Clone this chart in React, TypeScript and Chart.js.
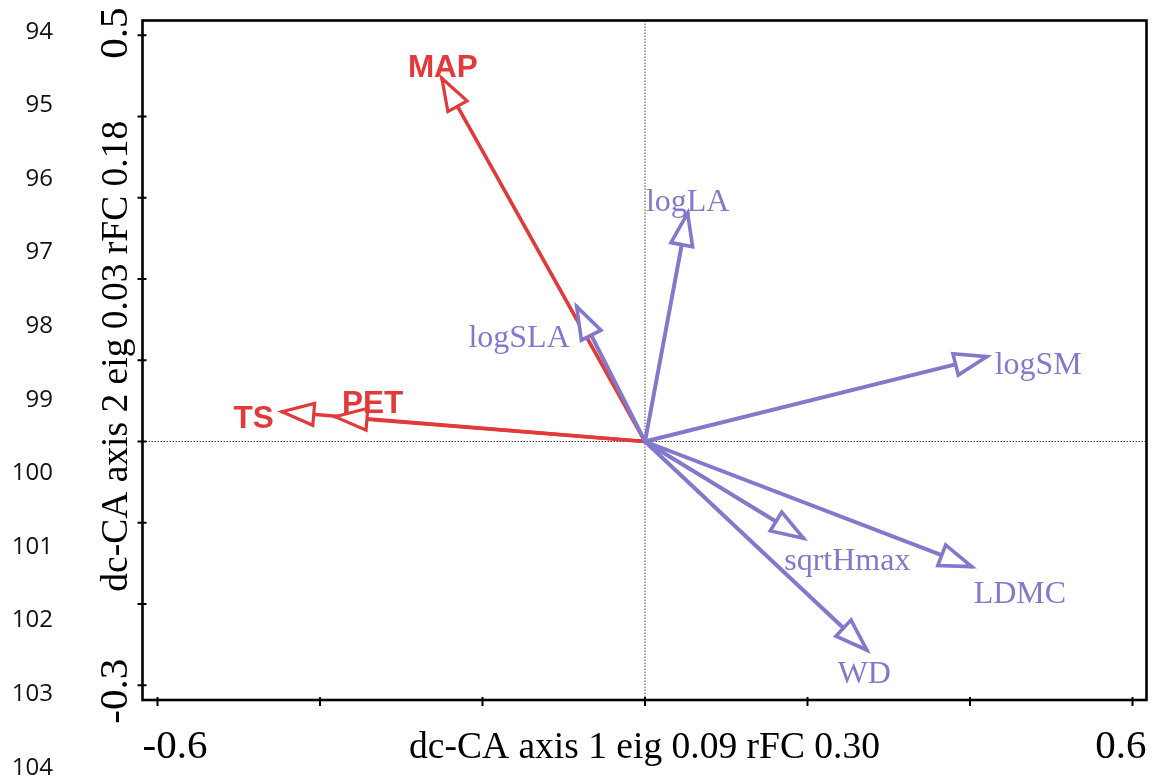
import React, { useEffect, useRef } from "react";
import { Chart, registerables } from "chart.js";

Chart.register(...registerables);

// ---- Data ----
const envNames = ["MAP", "TS", "PET"];
const envX = [-0.25, -0.447, -0.3815];
const envY = [0.447, 0.0367, 0.0305];

const traitNames = ["logLA", "logSLA", "logSM", "sqrtHmax", "LDMC", "WD"];
const traitX = [0.0525, -0.084, 0.4205, 0.1949, 0.402, 0.273];
const traitY = [0.281, 0.166, 0.1044, -0.119, -0.154, -0.2566];

const xTickValues = [-0.6, -0.4, -0.2, 0, 0.2, 0.4, 0.6];
const yTickValues = [-0.3, -0.2, -0.1, 0, 0.1, 0.2, 0.3, 0.4, 0.5];
const xTickLabelValues = [-0.6, 0.6];
const xTickLabels = ["-0.6", "0.6"];
const yTickLabelValues = [-0.3, 0.5];
const yTickLabels = ["-0.3", "0.5"];
const xTitle = "dc-CA axis 1 eig 0.09 rFC 0.30";
const yTitle = "dc-CA axis 2 eig 0.03 rFC 0.18";
const lineNumbers = ["94", "95", "96", "97", "98", "99", "100", "101", "102", "103", "104"];

// ---- Styles ----
const RED = "#E23A3A";
const PURPLE = "#8279CC";
const envLabelPlacement = [
  { align: "center", dx: 1, dy: -1 },
  { align: "right", dx: -8, dy: 16 },
  { align: "left", dx: 7, dy: -4 },
];
const traitLabelPlacement = [
  { align: "center", dx: 0, dy: -2 },
  { align: "right", dx: -7, dy: 40 },
  { align: "left", dx: 8, dy: 17 },
  { align: "center", dx: 44, dy: 32 },
  { align: "left", dx: 2, dy: 36 },
  { align: "center", dx: -2.5, dy: 33 },
];

function drawHead(ctx: CanvasRenderingContext2D, x0: number, y0: number, x1: number, y1: number, color: string, lw: number) {
  const ang = Math.atan2(y1 - y0, x1 - x0);
  const len = 32;
  const hw = 11;
  const bx = x1 - len * Math.cos(ang);
  const by = y1 - len * Math.sin(ang);
  const px = -Math.sin(ang) * hw;
  const py = Math.cos(ang) * hw;
  ctx.save();
  ctx.beginPath();
  ctx.moveTo(x1, y1);
  ctx.lineTo(bx + px, by + py);
  ctx.lineTo(bx - px, by - py);
  ctx.closePath();
  ctx.fillStyle = "#ffffff";
  ctx.fill();
  ctx.lineWidth = lw;
  ctx.strokeStyle = color;
  ctx.lineJoin = "miter";
  ctx.stroke();
  ctx.restore();
}

const biplotPlugin = {
  id: "biplot",
  beforeDatasetsDraw(chart: any) {
    const { ctx, chartArea: a, scales } = chart;
    const x0 = scales.x.getPixelForValue(0);
    const y0 = scales.y.getPixelForValue(0);
    ctx.save();
    ctx.strokeStyle = "#444";
    ctx.lineWidth = 1;
    ctx.setLineDash([1.5, 1.5]);
    ctx.beginPath();
    ctx.moveTo(x0, a.top);
    ctx.lineTo(x0, a.bottom);
    ctx.moveTo(a.left, y0);
    ctx.lineTo(a.right, y0);
    ctx.stroke();
    ctx.restore();
  },
  afterDatasetsDraw(chart: any) {
    const { ctx, chartArea: a, scales } = chart;
    const sx = scales.x;
    const sy = scales.y;
    const ox = sx.getPixelForValue(0);
    const oy = sy.getPixelForValue(0);

    // arrow heads
    envX.forEach((v, i) => drawHead(ctx, ox, oy, sx.getPixelForValue(v), sy.getPixelForValue(envY[i]), RED, 3.2));
    traitX.forEach((v, i) => drawHead(ctx, ox, oy, sx.getPixelForValue(v), sy.getPixelForValue(traitY[i]), PURPLE, 3.6));

    // labels
    ctx.save();
    ctx.textBaseline = "alphabetic";
    ctx.font = "bold 31.5px 'Liberation Sans', Arial, sans-serif";
    ctx.fillStyle = RED;
    envNames.forEach((n, i) => {
      const p = envLabelPlacement[i];
      ctx.textAlign = p.align;
      ctx.fillText(n, sx.getPixelForValue(envX[i]) + p.dx, sy.getPixelForValue(envY[i]) + p.dy);
    });
    ctx.font = "32px 'Liberation Serif', 'Times New Roman', serif";
    ctx.fillStyle = PURPLE;
    traitNames.forEach((n, i) => {
      const p = traitLabelPlacement[i];
      ctx.textAlign = p.align;
      ctx.fillText(n, sx.getPixelForValue(traitX[i]) + p.dx, sy.getPixelForValue(traitY[i]) + p.dy);
    });
    ctx.restore();

    // frame
    ctx.save();
    ctx.strokeStyle = "#000";
    ctx.lineWidth = 2.6;
    ctx.strokeRect(a.left, a.top, a.right - a.left, a.bottom - a.top);
    ctx.lineWidth = 2;
    ctx.beginPath();
    xTickValues.forEach((v) => {
      const px = sx.getPixelForValue(v);
      ctx.moveTo(px, a.bottom - 3);
      ctx.lineTo(px, a.bottom + 6);
    });
    yTickValues.forEach((v) => {
      const py = sy.getPixelForValue(v);
      ctx.moveTo(a.left - 5, py);
      ctx.lineTo(a.left + 4, py);
    });
    ctx.stroke();

    // tick labels and titles
    ctx.fillStyle = "#000";
    ctx.textBaseline = "alphabetic";
    ctx.font = "41px 'Liberation Serif', 'Times New Roman', serif";
    xTickLabelValues.forEach((v, i) => {
      ctx.textAlign = i === 0 ? "left" : "right";
      ctx.fillText(xTickLabels[i], i === 0 ? a.left : a.right, a.bottom + 58);
    });
    yTickLabelValues.forEach((v, i) => {
      const py = sy.getPixelForValue(v);
      ctx.save();
      ctx.translate(a.left - 16, py + (v > 0 ? -2 : 6));
      ctx.rotate(-Math.PI / 2);
      ctx.textAlign = "center";
      ctx.fillText(yTickLabels[i], 0, 0);
      ctx.restore();
    });
    ctx.font = "37.5px 'Liberation Serif', 'Times New Roman', serif";
    ctx.textAlign = "center";
    ctx.fillText(xTitle, (a.left + a.right) / 2, a.bottom + 58);
    ctx.save();
    ctx.translate(a.left - 16, (a.top + a.bottom) / 2 - 4);
    ctx.rotate(-Math.PI / 2);
    ctx.fillText(yTitle, 0, 0);
    ctx.restore();

    // line numbers (document margin)
    ctx.font = "24px 'Open Sans', sans-serif";
    ctx.textAlign = "right";
    ctx.fillStyle = "#111";
    lineNumbers.forEach((t, i) => {
      ctx.fillText(t, 53, 30.5 + 73.6 * i + 8);
    });
    ctx.restore();
  },
};

export default function App() {
  const ref = useRef<HTMLCanvasElement | null>(null);
  useEffect(() => {
    if (!ref.current) return;
    const datasets: any[] = [];
    traitX.forEach((v, i) =>
      datasets.push({
        label: traitNames[i],
        data: [
          { x: 0, y: 0 },
          { x: v, y: traitY[i] },
        ],
        showLine: true,
        borderColor: PURPLE,
        borderWidth: 4,
        pointRadius: 0,
        borderCapStyle: "round",
      })
    );
    envX.forEach((v, i) =>
      datasets.push({
        label: envNames[i],
        data: [
          { x: 0, y: 0 },
          { x: v, y: envY[i] },
        ],
        showLine: true,
        borderColor: RED,
        borderWidth: 3.6,
        pointRadius: 0,
        borderCapStyle: "round",
      })
    );
    const chart = new Chart(ref.current, {
      type: "scatter",
      data: { datasets },
      options: {
        responsive: false,
        animation: false,
        devicePixelRatio: 1,
        layout: { padding: { left: 142.5, right: 6.5, top: 20.5, bottom: 78 } },
        scales: {
          x: { type: "linear", min: -0.61846, max: 0.61723, display: false },
          y: { type: "linear", min: -0.31815, max: 0.51815, display: false },
        },
        plugins: { legend: { display: false }, tooltip: { enabled: false } },
        events: [],
      },
      plugins: [biplotPlugin],
    } as any);
    return () => chart.destroy();
  }, []);
  return (
    <div style={{ position: "fixed", left: 0, top: 0, width: 1153, height: 778, background: "#fff" }}>
      <canvas ref={ref} width={1153} height={778} style={{ display: "block" }} />
    </div>
  );
}
